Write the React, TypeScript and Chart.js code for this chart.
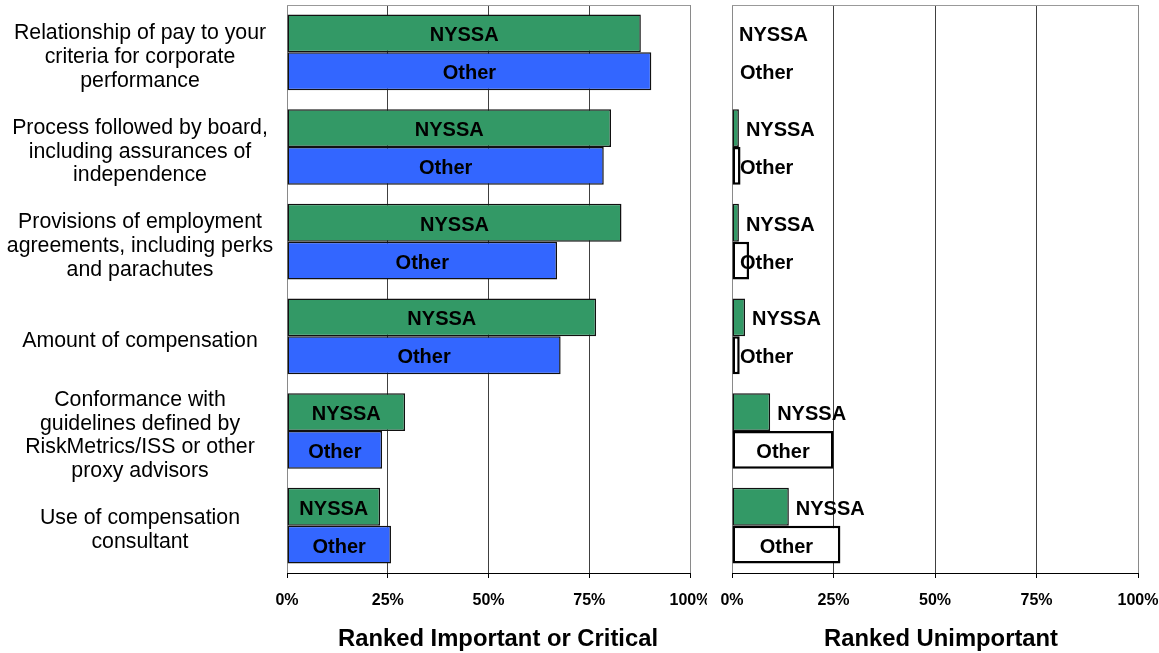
import React, { useEffect, useRef } from 'react';
import { Chart, registerables } from 'chart.js';

Chart.register(...registerables);

// ---------- data ----------
const categories: string[][] = [
  ['Relationship of pay to your', 'criteria for corporate', 'performance'],
  ['Process followed by board,', 'including assurances of', 'independence'],
  ['Provisions of employment', 'agreements, including perks', 'and parachutes'],
  ['Amount of compensation'],
  ['Conformance with', 'guidelines defined by', 'RiskMetrics/ISS or other', 'proxy advisors'],
  ['Use of compensation', 'consultant'],
];
const seriesNames = ['NYSSA', 'Other'];
const importantNyssa = [87.8, 80.4, 83.0, 76.7, 29.3, 23.1];
const importantOther = [90.4, 78.6, 67.0, 67.9, 23.6, 25.8];
const unimportantNyssa = [0, 1.7, 1.7, 3.2, 9.4, 14.0];
const unimportantOther = [0, 2.1, 4.2, 1.9, 25.0, 26.7];
const xTickValues = [0, 25, 50, 75, 100];
const panelTitles = ['Ranked Important or Critical', 'Ranked Unimportant'];

// ---------- styles ----------
const FONT = '"Liberation Sans", Arial, Helvetica, sans-serif';
const GREEN = '#339966';
const BLUE = '#3366FF';
const W = 1159;
const H = 653;
const SPLIT = 707;

function makeBarLabelPlugin(mode: 'center' | 'outside') {
  return {
    id: 'barLabels',
    afterDatasetsDraw(chart: any) {
      const ctx = chart.ctx;
      const area = chart.chartArea;
      ctx.save();
      ctx.font = `bold 20px ${FONT}`;
      ctx.fillStyle = '#000';
      ctx.textBaseline = 'alphabetic';
      chart.data.datasets.forEach((ds: any, di: number) => {
        const meta = chart.getDatasetMeta(di);
        meta.data.forEach((el: any) => {
          const text = ds.label as string;
          const w = ctx.measureText(text).width;
          const y = el.y + 8;
          if (mode === 'center') {
            ctx.textAlign = 'center';
            ctx.fillText(text, (el.x + el.base) / 2, y);
          } else if (di === 0) {
            ctx.textAlign = 'left';
            ctx.fillText(text, el.x + 7, y);
          } else {
            ctx.textAlign = 'center';
            const c = Math.max((el.x + el.base) / 2, area.left + 8 + w / 2);
            ctx.fillText(text, c, y);
          }
        });
      });
      ctx.restore();
    },
  };
}

const framePlugin = {
  id: 'frameTop',
  beforeDatasetsDraw(chart: any) {
    const { ctx, chartArea } = chart;
    ctx.save();
    ctx.strokeStyle = '#999';
    ctx.lineWidth = 1;
    ctx.beginPath();
    ctx.moveTo(chartArea.left, Math.round(chartArea.top) + 0.5);
    ctx.lineTo(chartArea.right, Math.round(chartArea.top) + 0.5);
    ctx.stroke();
    ctx.restore();
  },
};

function makeTitlePlugin(text: string, dx: number) {
  return {
    id: 'panelTitle',
    afterDraw(chart: any) {
      const { ctx, chartArea } = chart;
      ctx.save();
      ctx.font = `bold 23.8px ${FONT}`;
      ctx.fillStyle = '#000';
      ctx.textAlign = 'center';
      ctx.textBaseline = 'alphabetic';
      ctx.fillText(text, (chartArea.left + chartArea.right) / 2 + dx, 646);
      ctx.restore();
    },
  };
}

const categoryLabelPlugin = {
  id: 'categoryLabels',
  afterDraw(chart: any) {
    const { ctx } = chart;
    const yScale = chart.scales.y;
    ctx.save();
    ctx.font = `21.3px ${FONT}`;
    ctx.fillStyle = '#000';
    ctx.textAlign = 'center';
    ctx.textBaseline = 'alphabetic';
    (chart.data.labels as string[][]).forEach((lines, i) => {
      const yc = yScale.getPixelForValue(i);
      const n = lines.length;
      lines.forEach((line, k) => {
        ctx.fillText(line, 140, yc + 10.5 + (k - (n - 1) / 2) * 23.8);
      });
    });
    ctx.restore();
  },
};

function makeConfig(
  nyssa: number[],
  other: number[],
  otherFill: string,
  otherBorder: string,
  otherBorderWidth: number,
  padding: any,
  extraPlugins: any[],
  labelMode: 'center' | 'outside'
): any {
  return {
    type: 'bar',
    data: {
      labels: categories,
      datasets: [
        {
          label: seriesNames[0],
          data: nyssa,
          backgroundColor: GREEN,
          borderColor: '#111',
          borderWidth: 1.5,
          borderSkipped: false,
          inflateAmount: 0,
          categoryPercentage: 0.8,
          barPercentage: 1,
        },
        {
          label: seriesNames[1],
          data: other,
          backgroundColor: otherFill,
          borderColor: otherBorder,
          borderWidth: otherBorderWidth,
          borderSkipped: false,
          inflateAmount: 0,
          categoryPercentage: 0.8,
          barPercentage: 1,
        },
      ],
    },
    options: {
      indexAxis: 'y',
      responsive: false,
      maintainAspectRatio: false,
      animation: false,
      devicePixelRatio: 1,
      layout: { padding },
      plugins: {
        legend: { display: false },
        tooltip: { enabled: false },
        title: { display: false },
      },
      scales: {
        y: {
          display: false,
          grid: { display: false },
        },
        x: {
          min: 0,
          max: 100,
          afterBuildTicks: (scale: any) => {
            scale.ticks = xTickValues.map((v) => ({ value: v }));
          },
          ticks: {
            callback: (v: any) => `${v}%`,
            font: { family: FONT, size: 16, weight: 'bold' },
            color: '#000',
            padding: 13,
            maxRotation: 0,
            autoSkip: false,
          },
          grid: {
            color: (c: any) =>
              c.tick && (c.tick.value === 0 || c.tick.value === 100) ? '#8a8a8a' : '#404040',
            tickColor: '#000',
            tickLength: 5,
            lineWidth: 1,
            drawTicks: true,
          },
          border: { display: true, color: '#000', width: 1 },
          afterFit: (s: any) => {
            s.height = 80;
            s.paddingLeft = 0;
            s.paddingRight = 0;
          },
        },
      },
    },
    plugins: [framePlugin, makeBarLabelPlugin(labelMode), ...extraPlugins],
  };
}

function Panel({ config, left, width }: { config: any; left: number; width: number }) {
  const ref = useRef<HTMLCanvasElement>(null);
  useEffect(() => {
    if (!ref.current) return;
    const chart = new Chart(ref.current, config);
    return () => chart.destroy();
  }, []);
  return (
    <canvas
      ref={ref}
      width={width}
      height={H}
      style={{ position: 'absolute', left, top: 0, width, height: H, display: 'block' }}
    />
  );
}

export default function App() {
  const leftConfig = makeConfig(
    importantNyssa,
    importantOther,
    BLUE,
    '#111',
    1.5,
    { left: 287, right: SPLIT - 690, top: 5, bottom: 0 },
    [categoryLabelPlugin, makeTitlePlugin(panelTitles[0], 9.5)],
    'center'
  );
  const rightConfig = makeConfig(
    unimportantNyssa,
    unimportantOther,
    '#ffffff',
    '#000000',
    2.5,
    { left: 732 - SPLIT, right: W - 1138, top: 5, bottom: 0 },
    [makeTitlePlugin(panelTitles[1], 6)],
    'outside'
  );
  return (
    <div
      style={{
        position: 'fixed',
        left: 0,
        top: 0,
        width: W,
        height: H,
        background: '#fff',
        overflow: 'hidden',
      }}
    >
      <Panel config={leftConfig} left={0} width={SPLIT} />
      <Panel config={rightConfig} left={SPLIT} width={W - SPLIT} />
    </div>
  );
}
